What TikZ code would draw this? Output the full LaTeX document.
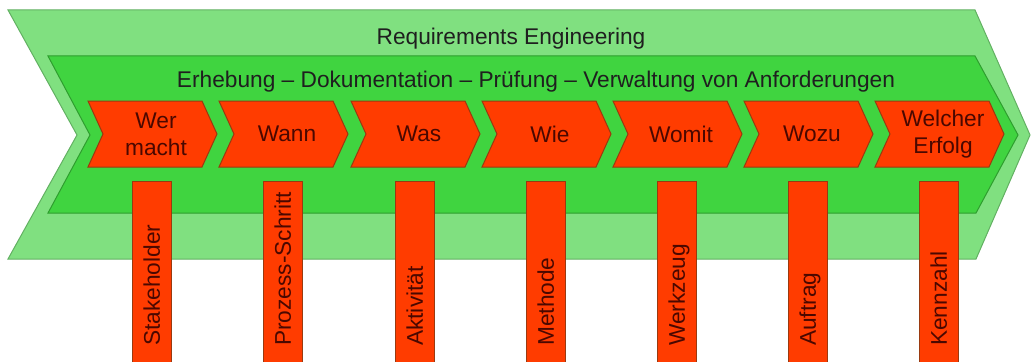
\documentclass[tikz,border=0pt]{standalone}
\usepackage{fontspec}
\setmainfont{Liberation Sans}
\definecolor{lgreen}{HTML}{80E080}
\definecolor{lgreenB}{HTML}{62B062}
\definecolor{dgreen}{HTML}{40D440}
\definecolor{dgreenB}{HTML}{2E9E2E}
\definecolor{redc}{HTML}{FF3C00}
\definecolor{redB}{HTML}{9A3A10}
\definecolor{redT}{HTML}{4A0800}
\begin{document}
\begin{tikzpicture}[x=1pt,y=-1pt,
  outer/.style={fill=lgreen, draw=lgreenB, line width=1pt},
  inner/.style={fill=dgreen, draw=dgreenB, line width=1pt},
  chev/.style={fill=redc, draw=redB, line width=1pt},
  barbox/.style={fill=redc, draw=redB, line width=1pt},
  title/.style={font=\fontsize{22.7}{27}\selectfont, text=black!88, inner sep=0pt},
  ctext/.style={font=\fontsize{22.7}{27}\selectfont, text=redT, align=center, inner sep=0pt},
  btext/.style={font=\fontsize{22.7}{27}\selectfont, text=redT, rotate=90, anchor=base west, inner sep=0pt}]
\useasboundingbox (0,0) rectangle (1032,361);
\clip (0,0) rectangle (1032,361);
\draw[outer] (8,10) -- (975,10) -- (1030,135) -- (976,259) -- (8,259) -- (77,135) -- cycle;
\draw[inner] (48,56) -- (975,56) -- (1018,135) -- (976,213) -- (48,213) -- (90,135) -- cycle;
\node[title, anchor=base] (re) at (511,45) {Requirements Engineering};
\node[title, anchor=base] (ed) at (536,87) {Erhebung – Dokumentation – Prüfung – Verwaltung von Anforderungen};
\foreach [count=\k] \x/\t/\b in {88/{Wer\\macht}/Stakeholder, 219/Wann/Prozess-Schritt, 351/Was/Aktivität, 482/Wie/Methode, 613/Womit/Werkzeug, 744/Wozu/Auftrag, 875/{Welcher\\Erfolg}/Kennzahl} {
  \draw[chev] (\x,101) -- ++(114,0) -- ++(15,33) -- ++(-15,33) -- ++(-114,0) -- ++(15,-33) -- cycle;
  \node[ctext] (c\k) at (\x+68,134) {\t};
  \draw[barbox] (\x+44.5,181) rectangle (\x+83,370);
  \node[btext] (b\k) at (\x+63.75+8.1,346) {\b};
}
\end{tikzpicture}
\end{document}
